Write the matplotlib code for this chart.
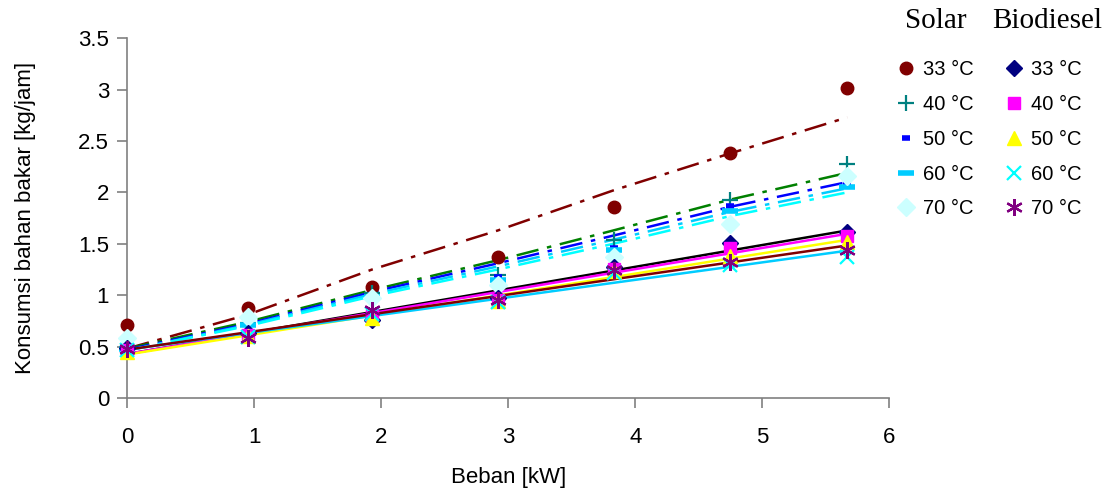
import matplotlib
matplotlib.use('Agg')
import matplotlib.pyplot as plt
import numpy as np

plt.rcParams['font.family'] = ['Liberation Sans', 'DejaVu Sans']

# beban [kW]
x = np.array([0, 0.95, 1.93, 2.92, 3.83, 4.75, 5.67])

# Solar (titik data)
solar33 = [0.71, 0.87, 1.08, 1.37, 1.86, 2.38, 3.02]
solar40 = [0.50, 0.73, 1.02, 1.20, 1.54, 1.93, 2.28]
solar50 = [0.49, 0.72, 1.00, 1.18, 1.46, 1.87, 2.09]
solar60 = [0.48, 0.71, 0.98, 1.15, 1.44, 1.82, 2.05]
solar70 = [0.58, 0.79, 0.97, 1.10, 1.37, 1.69, 2.16]

# Solar (garis titik-strip)
solar33_line = [0.48, 0.81, 1.25, 1.63, 2.02, 2.38, 2.73]
solar40_line = [0.48, 0.74, 1.05, 1.34, 1.63, 1.93, 2.19]
solar50_line = [0.47, 0.72, 1.03, 1.31, 1.58, 1.86, 2.10]
solar60_line = [0.46, 0.71, 1.01, 1.28, 1.54, 1.81, 2.04]
solar70_line = [0.46, 0.70, 0.99, 1.25, 1.50, 1.77, 2.00]

# Biodiesel
bio33 = [0.49, 0.63, 0.76, 0.97, 1.27, 1.51, 1.61]
bio40 = [0.47, 0.61, 0.81, 0.95, 1.25, 1.46, 1.58]
bio50 = [0.45, 0.60, 0.78, 0.94, 1.23, 1.38, 1.52]
bio60 = [0.47, 0.59, 0.82, 0.93, 1.22, 1.29, 1.37]
bio70 = [0.48, 0.58, 0.86, 0.95, 1.24, 1.32, 1.44]

labels = ['33 °C', '40 °C', '50 °C', '60 °C', '70 °C']

fig = plt.figure(figsize=(11.06, 4.9), dpi=100)
ax = fig.add_axes([0.115, 0.188, 0.689, 0.734])

dashdot = (0, (9, 3.5, 1.8, 3.5))

# garis solar
solar_lines = [solar33_line, solar40_line, solar50_line, solar60_line, solar70_line]
solar_lc = ['#800000', '#008000', '#0000ff', '#00ccff', '#00ffff']
for yl, c in zip(solar_lines, solar_lc):
    ax.plot(x, yl, color=c, lw=1.8, ls=dashdot, zorder=2)

# garis biodiesel (trendline linear)
bio_all = [bio33, bio40, bio50, bio60, bio70]
bio_lc = ['#000000', '#ff00ff', '#ffff00', '#00ccff', '#800000']
for yb, c in zip(bio_all, bio_lc):
    k, b = np.polyfit(x, yb, 1)
    ax.plot(x[[0, -1]], k * x[[0, -1]] + b, color=c, lw=1.8, zorder=2)

# marker solar
solar_all = [solar33, solar40, solar50, solar60, solar70]
solar_mk = [dict(marker='o', color='#800000', ms=9),
            dict(marker='+', color='#008080', ms=12, mew=1.6),
            dict(marker='_', color='#0000ff', ms=6, mew=4),
            dict(marker='_', color='#00ccff', ms=11, mew=4),
            dict(marker='D', color='#ccffff', ms=9)]
h_solar = []
for ys, st, lab in zip(solar_all, solar_mk, labels):
    h, = ax.plot(x, ys, ls='none', zorder=3, label=lab, clip_on=False, **st)
    h_solar.append(h)

bio_mk = [dict(marker='D', color='#000080', ms=8),
          dict(marker='s', color='#ff00ff', ms=8),
          dict(marker='^', color='#ffff00', ms=10),
          dict(marker='x', color='#00ffff', ms=10, mew=1.6),
          dict(marker=(6, 2, 0), color='#800080', ms=12, mew=1.6)]
h_bio = []
for yb, st, lab in zip(bio_all, bio_mk, labels):
    h, = ax.plot(x, yb, ls='none', zorder=3, label=lab, clip_on=False, **st)
    h_bio.append(h)

ax.set_xlim(0, 6)
ax.set_ylim(0, 3.5)
ax.set_xticks(np.arange(0, 7, 1))
ax.set_yticks(np.arange(0, 3.6, 0.5))
ax.set_yticklabels(['0', '0.5', '1', '1.5', '2', '2.5', '3', '3.5'])
for s in ['top', 'right']:
    ax.spines[s].set_visible(False)
for s in ['left', 'bottom']:
    ax.spines[s].set_color('#808080')
    ax.spines[s].set_linewidth(1.2)
ax.tick_params(axis='both', colors='#808080', labelcolor='black', labelsize=16,
               length=7, width=1.2)
ax.tick_params(axis='x', pad=14)
ax.tick_params(axis='y', pad=6)
ax.set_xlabel('Beban [kW]', fontsize=16, labelpad=14)
ax.set_ylabel('Konsumsi bahan bakar [kg/jam]', fontsize=16, labelpad=30)

leg1 = fig.legend(handles=h_solar, loc='upper left', bbox_to_anchor=(0.804, 0.893),
                  frameon=False, fontsize=14.5, labelspacing=0.78, handlelength=0.9,
                  handletextpad=0.4, borderaxespad=0)
leg2 = fig.legend(handles=h_bio, loc='upper left', bbox_to_anchor=(0.901, 0.893),
                  frameon=False, fontsize=14.5, labelspacing=0.78, handlelength=0.9,
                  handletextpad=0.4, borderaxespad=0)
fig.text(0.846, 0.957, 'Solar', family='Liberation Serif', fontsize=21, ha='center', va='center')
fig.text(0.947, 0.957, 'Biodiesel', family='Liberation Serif', fontsize=21, ha='center', va='center')

fig.savefig('out.png', dpi=100)
